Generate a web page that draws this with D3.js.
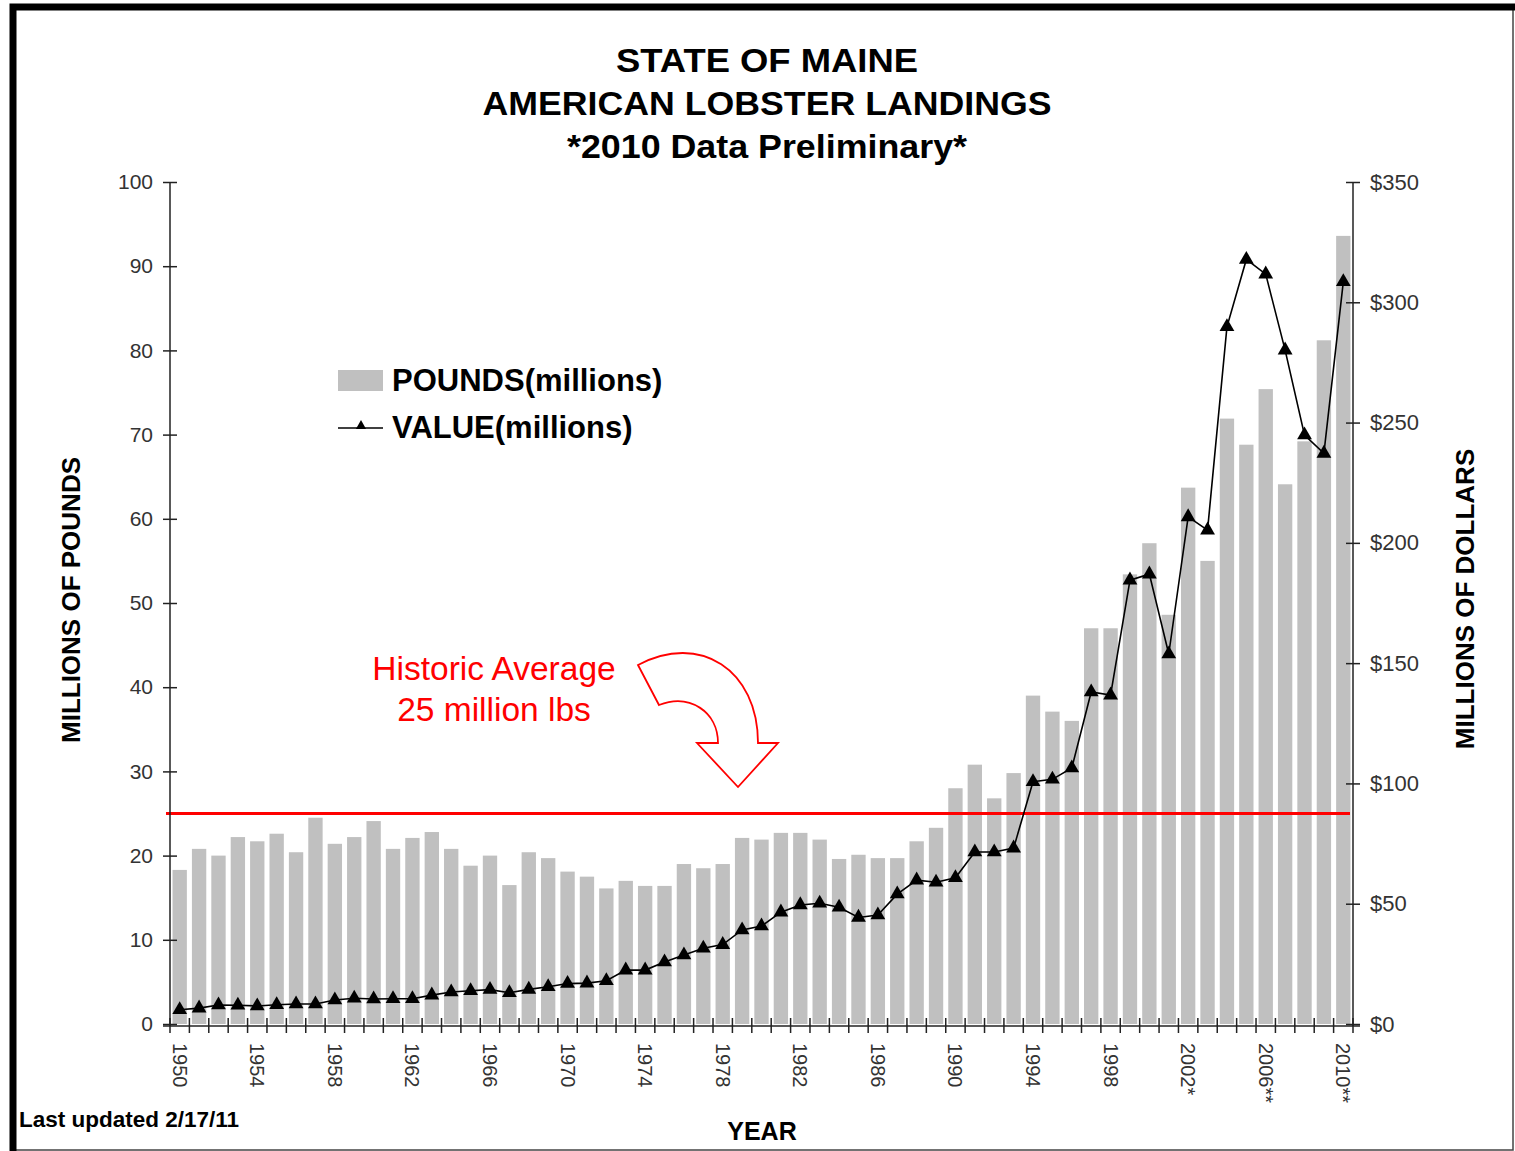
<!DOCTYPE html>
<html>
<head>
<meta charset="utf-8">
<script src="https://cdn.jsdelivr.net/npm/d3@7"></script>
<style>
  body { margin: 0; background: #fff; }
  svg { display: block; }
  text { font-family: "Liberation Sans", Arial, sans-serif; }
</style>
</head>
<body>
<svg width="1515" height="1151"></svg>
<script>
// Maine lobster landings 1950-2010
const years = d3.range(1950, 2011);

const pounds = [
  18.3, 20.8, 20.0, 22.2, 21.7, 22.6, 20.4, 24.5, 21.4, 22.2,
  24.1, 20.8, 22.1, 22.8, 20.8, 18.8, 20.0, 16.5, 20.4, 19.7,
  18.1, 17.5, 16.1, 17.0, 16.4, 16.4, 19.0, 18.5, 19.0, 22.1,
  21.9, 22.7, 22.7, 21.9, 19.6, 20.1, 19.7, 19.7, 21.7, 23.3,
  28.0, 30.8, 26.8, 29.8, 39.0, 37.1, 36.0, 47.0, 47.0, 53.4,
  57.1, 48.6, 63.7, 55.0, 71.9, 68.8, 75.4, 64.1, 69.2, 81.2,
  93.6
];

const value = [
  5.9, 6.6, 7.9, 7.8, 7.5, 8.0, 8.3, 8.3, 10.0, 10.7,
  10.4, 10.5, 10.5, 12.0, 13.3, 13.8, 14.3, 13.0, 14.4, 15.5,
  16.8, 17.0, 18.0, 22.4, 22.4, 25.8, 28.7, 31.5, 33.0, 39.1,
  40.7, 46.5, 49.5, 50.2, 48.5, 44.3, 45.3, 54.0, 59.8, 58.9,
  60.8, 71.5, 71.5, 73.1, 100.7, 101.7, 106.4, 138.0, 136.7, 184.5,
  187.0, 153.8, 210.8, 205.3, 289.8, 317.8, 311.7, 280.1, 244.8, 237.2,
  308.5
];

const poundTicks = d3.range(0, 101, 10);
const dollarTicks = d3.range(0, 351, 50);
const labelYears = [1950, 1954, 1958, 1962, 1966, 1970, 1974, 1978, 1982, 1986, 1990, 1994, 1998, 2002, 2006, 2010];
const yearSuffix = { 2002: "*", 2006: "**", 2010: "**" };
const historicAvg = 25;

const svg = d3.select("svg");

// frame
svg.append("rect")
  .attr("x", 13).attr("y", 7).attr("width", 1500).attr("height", 1143)
  .attr("fill", "none").attr("stroke", "#444").attr("stroke-width", 1.5);
svg.append("path")
  .attr("d", "M13,1151 L13,7 L1515,7")
  .attr("fill", "none").attr("stroke", "#000").attr("stroke-width", 7);

const plotL = 170, plotR = 1353, plotT = 182, plotB = 1024;

const x = d3.scaleBand().domain(years).range([plotL, plotR]).paddingInner(0.26).paddingOuter(0.13);
const y = d3.scaleLinear().domain([0, 100]).range([plotB, plotT]);
const y2 = d3.scaleLinear().domain([0, 350]).range([plotB, plotT]);

// bars
svg.append("g")
  .selectAll("rect")
  .data(years)
  .enter()
  .append("rect")
  .attr("x", d => x(d))
  .attr("width", x.bandwidth())
  .attr("y", (d, i) => y(pounds[i]))
  .attr("height", (d, i) => plotB - y(pounds[i]))
  .attr("fill", "#c0c0c0");

// historic average line
svg.append("line")
  .attr("x1", 166).attr("x2", 1350)
  .attr("y1", y(historicAvg)).attr("y2", y(historicAvg))
  .attr("stroke", "#ff0000").attr("stroke-width", 3);

// left axis
const axisColor = "#222";
const gl = svg.append("g")
  .attr("transform", `translate(${plotL},0)`)
  .call(d3.axisLeft(y).tickValues(poundTicks).tickSize(7).tickPadding(10));
gl.selectAll(".tick line").attr("x2", 7).attr("x1", -7);
gl.select(".domain").attr("d", `M0,${plotT}V${plotB + 2}`);

// right axis
const gr = svg.append("g")
  .attr("transform", `translate(${plotR},0)`)
  .call(d3.axisRight(y2).tickValues(dollarTicks).tickSize(7).tickPadding(10).tickFormat(d => "$" + d));
gr.selectAll(".tick line").attr("x1", -7).attr("x2", 7);
gr.select(".domain").attr("d", `M0,${plotT}V${plotB + 2}`);

[gl, gr].forEach(g => {
  g.selectAll("path, line").attr("stroke", axisColor).attr("stroke-width", 1.5);
  g.selectAll("text").attr("font-size", 21).attr("fill", "#333")
    .attr("font-family", "Liberation Sans, Arial, sans-serif");
});
gr.selectAll("text").attr("font-size", 22);

// bottom axis: boundary ticks and year labels
const gb = svg.append("g");
gb.append("line")
  .attr("x1", plotL - 7).attr("x2", plotR + 7)
  .attr("y1", plotB + 2).attr("y2", plotB + 2)
  .attr("stroke", axisColor).attr("stroke-width", 1.5);
const tickX = years.map(d => x(d) - x.paddingOuter() * x.step()).concat([plotR]);
gb.selectAll("line.t")
  .data(tickX)
  .enter()
  .append("line")
  .attr("class", "t")
  .attr("x1", d => d).attr("x2", d => d)
  .attr("y1", plotB - 6).attr("y2", plotB + 9)
  .attr("stroke", axisColor).attr("stroke-width", 1.5);

gb.selectAll("text")
  .data(labelYears)
  .enter()
  .append("text")
  .attr("transform", d => `translate(${x(d) + x.bandwidth() / 2},${plotB + 19}) rotate(90)`)
  .attr("dy", "0.35em")
  .attr("font-size", 20)
  .attr("fill", "#333")
  .text(d => d + (yearSuffix[d] || ""));

// value line
const line = d3.line()
  .x((d, i) => x(years[i]) + x.bandwidth() / 2)
  .y(d => y2(d));
svg.append("path")
  .datum(value)
  .attr("d", line)
  .attr("fill", "none")
  .attr("stroke", "#000")
  .attr("stroke-width", 1.6);

svg.append("g")
  .selectAll("path")
  .data(value)
  .enter()
  .append("path")
  .attr("d", d3.symbol(d3.symbolTriangle).size(95))
  .attr("transform", (d, i) => `translate(${x(years[i]) + x.bandwidth() / 2},${y2(d)})`)
  .attr("fill", "#000");

// titles
const titles = [
  { t: "STATE OF MAINE", y: 72, w: 302 },
  { t: "AMERICAN LOBSTER LANDINGS", y: 115, w: 569 },
  { t: "*2010 Data Preliminary*", y: 158, w: 400 }
];
svg.append("g")
  .selectAll("text")
  .data(titles)
  .enter()
  .append("text")
  .attr("x", 767)
  .attr("y", d => d.y)
  .attr("text-anchor", "middle")
  .attr("font-size", 33)
  .attr("font-weight", "bold")
  .attr("textLength", d => d.w)
  .attr("lengthAdjust", "spacingAndGlyphs")
  .text(d => d.t);

svg.append("text")
  .attr("transform", "translate(80,600) rotate(-90)")
  .attr("text-anchor", "middle")
  .attr("font-size", 26).attr("font-weight", "bold")
  .text("MILLIONS OF POUNDS");

svg.append("text")
  .attr("transform", "translate(1474,599) rotate(-90)")
  .attr("text-anchor", "middle")
  .attr("font-size", 26).attr("font-weight", "bold")
  .text("MILLIONS OF DOLLARS");

svg.append("text")
  .attr("x", 762).attr("y", 1140)
  .attr("text-anchor", "middle")
  .attr("font-size", 25).attr("font-weight", "bold")
  .text("YEAR");

svg.append("text")
  .attr("x", 19).attr("y", 1127)
  .attr("font-size", 22.5).attr("font-weight", "bold")
  .text("Last updated 2/17/11");

// legend
const lg = svg.append("g");
lg.append("rect")
  .attr("x", 338).attr("y", 370).attr("width", 45).attr("height", 21)
  .attr("fill", "#c0c0c0");
lg.append("text")
  .attr("x", 392).attr("y", 391)
  .attr("font-size", 31).attr("font-weight", "bold")
  .text("POUNDS(millions)");
lg.append("line")
  .attr("x1", 338).attr("x2", 383).attr("y1", 428).attr("y2", 428)
  .attr("stroke", "#000").attr("stroke-width", 1.5);
lg.append("path")
  .attr("d", d3.symbol(d3.symbolTriangle).size(45))
  .attr("transform", "translate(361,426)")
  .attr("fill", "#000");
lg.append("text")
  .attr("x", 392).attr("y", 438)
  .attr("font-size", 31).attr("font-weight", "bold")
  .text("VALUE(millions)");

// annotation
const ann = svg.append("g").attr("fill", "#ff0000")
  .attr("font-family", "Lato, 'Open Sans', sans-serif")
  .attr("font-size", 33.5)
  .attr("text-anchor", "middle");
ann.append("text").attr("x", 494).attr("y", 680).text("Historic Average");
ann.append("text").attr("x", 494).attr("y", 721).text("25 million lbs");

// curved arrow outline
const arrow = d3.path();
arrow.moveTo(638, 665);
arrow.bezierCurveTo(700, 632, 758, 670, 758, 743);
arrow.lineTo(778, 743);
arrow.lineTo(738, 787);
arrow.lineTo(697, 743);
arrow.lineTo(718, 743);
arrow.bezierCurveTo(718, 712, 690, 693, 659, 705);
arrow.closePath();
svg.append("path")
  .attr("d", arrow.toString())
  .attr("fill", "#fff")
  .attr("stroke", "#ff0000")
  .attr("stroke-width", 1.8);
</script>
</body>
</html>
